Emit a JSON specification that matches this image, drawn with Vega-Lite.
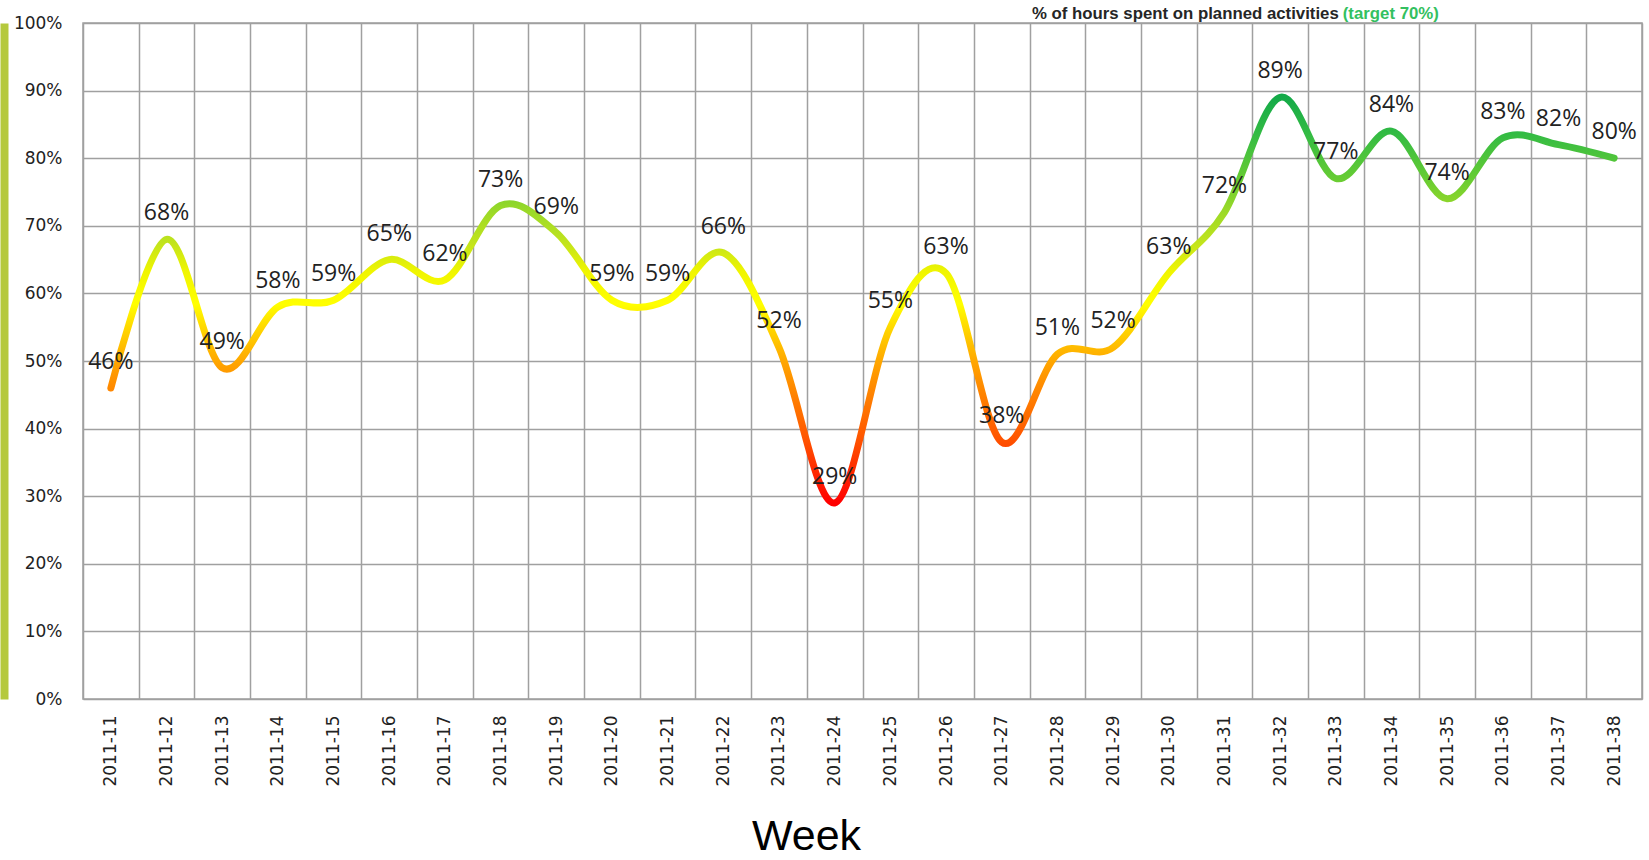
{
  "$schema": "https://vega.github.io/schema/vega-lite/v6.json",
  "autosize": "none",
  "padding": {"left": 83, "top": 23, "right": 7, "bottom": 161},
  "width": 1559,
  "height": 676,
  "background": "white",
  "config": {
    "view": {"stroke": "#a0a0a0", "strokeWidth": 1.5},
    "axis": {"gridColor": "#a0a0a0", "gridWidth": 1.5, "gridOpacity": 1}
  },
  "data": {
    "values": [
      {"week": "2011-11", "pct": 0.46},
      {"week": "2011-12", "pct": 0.68},
      {"week": "2011-13", "pct": 0.49},
      {"week": "2011-14", "pct": 0.58},
      {"week": "2011-15", "pct": 0.59},
      {"week": "2011-16", "pct": 0.65},
      {"week": "2011-17", "pct": 0.62},
      {"week": "2011-18", "pct": 0.73},
      {"week": "2011-19", "pct": 0.69},
      {"week": "2011-20", "pct": 0.59},
      {"week": "2011-21", "pct": 0.59},
      {"week": "2011-22", "pct": 0.66},
      {"week": "2011-23", "pct": 0.52},
      {"week": "2011-24", "pct": 0.29},
      {"week": "2011-25", "pct": 0.55},
      {"week": "2011-26", "pct": 0.63},
      {"week": "2011-27", "pct": 0.38},
      {"week": "2011-28", "pct": 0.51},
      {"week": "2011-29", "pct": 0.52},
      {"week": "2011-30", "pct": 0.63},
      {"week": "2011-31", "pct": 0.72},
      {"week": "2011-32", "pct": 0.89},
      {"week": "2011-33", "pct": 0.77},
      {"week": "2011-34", "pct": 0.84},
      {"week": "2011-35", "pct": 0.74},
      {"week": "2011-36", "pct": 0.83},
      {"week": "2011-37", "pct": 0.82},
      {"week": "2011-38", "pct": 0.80}
    ]
  },
  "resolve": {"axis": {"y": "independent"}},
  "layer": [
    {
      "mark": {
        "type": "line",
        "interpolate": "cardinal",
        "strokeWidth": 7,
        "strokeCap": "round",
        "strokeJoin": "round",
        "stroke": {
          "gradient": "linear",
          "x1": 0, "y1": 1, "x2": 0, "y2": 0,
          "stops": [
            {"offset": 0.0, "color": "#ff0000"},
            {"offset": 0.16, "color": "#ff5500"},
            {"offset": 0.29, "color": "#ff8c00"},
            {"offset": 0.34, "color": "#ffa200"},
            {"offset": 0.39, "color": "#ffbf00"},
            {"offset": 0.44, "color": "#ffdd00"},
            {"offset": 0.49, "color": "#ffff00"},
            {"offset": 0.57, "color": "#f0f500"},
            {"offset": 0.64, "color": "#c2e41c"},
            {"offset": 0.72, "color": "#9ad928"},
            {"offset": 0.8, "color": "#66cc33"},
            {"offset": 0.91, "color": "#33bb44"},
            {"offset": 1.0, "color": "#14aa48"}
          ]
        }
      },
      "encoding": {
        "x": {
          "field": "week",
          "type": "nominal",
          "bandPosition": 0.5,
          "sort": null,
          "scale": {"type": "band", "paddingInner": 0, "paddingOuter": 0},
          "axis": {
            "title": "Week",
            "titleFont": "Liberation Sans",
            "titleFontSize": 43,
            "titleFontWeight": "normal",
            "titleColor": "#000000",
            "titleX": 723,
            "titleY": 150,
            "titleAlign": "center",
            "titleBaseline": "alphabetic",
            "tickBand": "extent",
            "grid": true,
            "ticks": false,
            "domain": false,
            "labelAngle": 270,
            "labelAlign": "right",
            "labelBaseline": "middle",
            "labelPadding": 16,
            "labelFont": "DejaVu Sans",
            "labelFontSize": 17,
            "labelColor": "#222222"
          }
        },
        "y": {
          "field": "pct",
          "type": "quantitative",
          "scale": {"domain": [0, 1], "nice": false, "zero": true},
          "axis": {
            "title": null,
            "values": [0, 0.1, 0.2, 0.3, 0.4, 0.5, 0.6, 0.7, 0.8, 0.9, 1],
            "format": ".0%",
            "grid": true,
            "ticks": false,
            "domain": false,
            "labelPadding": 21,
            "labelFont": "DejaVu Sans",
            "labelFontSize": 17,
            "labelColor": "#222222"
          }
        }
      }
    },
    {
      "mark": {
        "type": "text",
        "font": "Open Sans",
        "fontSize": 23,
        "color": "#222222",
        "baseline": "alphabetic",
        "align": "center",
        "dy": -19
      },
      "encoding": {
        "x": {"field": "week", "type": "nominal", "bandPosition": 0.5, "sort": null},
        "y": {
          "field": "pct",
          "type": "quantitative",
          "axis": {
            "orient": "left",
            "offset": 79,
            "domain": true,
            "domainColor": "#b5c93d",
            "domainWidth": 8,
            "labels": false,
            "ticks": false,
            "grid": false,
            "title": null
          }
        },
        "text": {"field": "pct", "type": "quantitative", "format": ".0%"}
      }
    },
    {
      "data": {"values": [{"t": "% of hours spent on planned activities", "wk": "2011-33", "v": 1.006}]},
      "mark": {
        "type": "text",
        "font": "Liberation Sans",
        "fontSize": 16.8,
        "fontWeight": "bold",
        "color": "#262626",
        "align": "right",
        "baseline": "alphabetic",
        "dx": 3
      },
      "encoding": {
        "x": {"field": "wk", "type": "nominal", "bandPosition": 0.5},
        "y": {"field": "v", "type": "quantitative", "axis": null},
        "text": {"field": "t"}
      }
    },
    {
      "data": {"values": [{"t": "(target 70%)", "wk": "2011-33", "v": 1.006}]},
      "mark": {
        "type": "text",
        "font": "Liberation Sans",
        "fontSize": 16.8,
        "fontWeight": "bold",
        "color": "#33c060",
        "align": "left",
        "baseline": "alphabetic",
        "dx": 7
      },
      "encoding": {
        "x": {"field": "wk", "type": "nominal", "bandPosition": 0.5},
        "y": {"field": "v", "type": "quantitative", "axis": null},
        "text": {"field": "t"}
      }
    }
  ]
}
